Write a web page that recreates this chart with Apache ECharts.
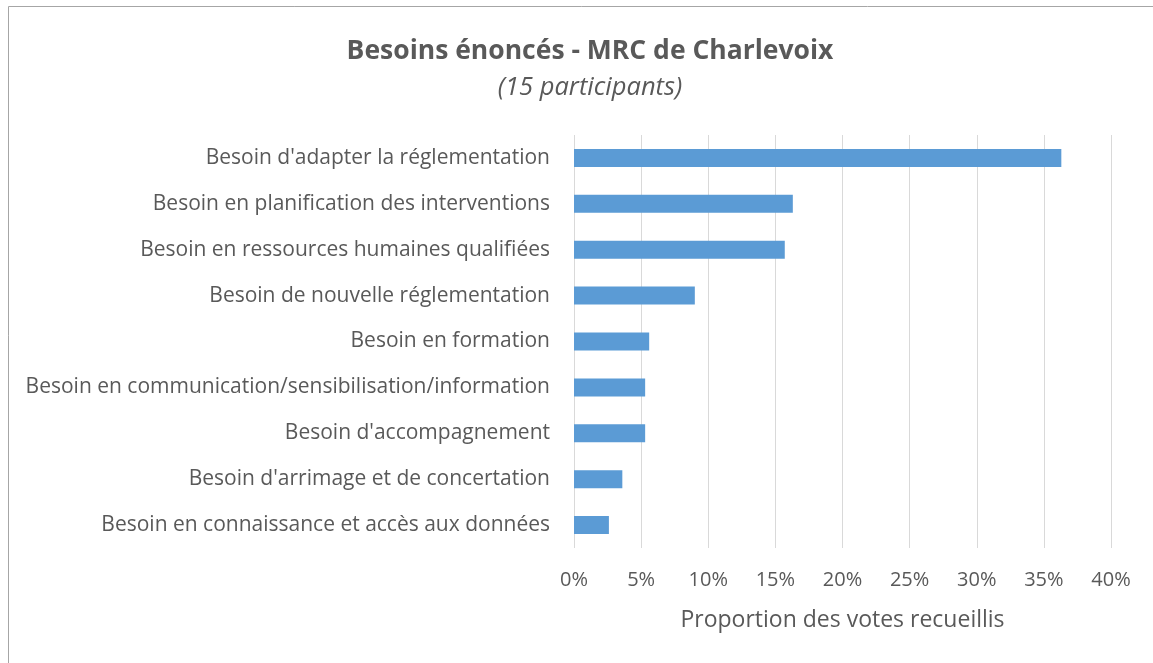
<!DOCTYPE html>
<html>
<head>
<meta charset="utf-8">
<script src="https://cdn.jsdelivr.net/npm/echarts@6/dist/echarts.min.js"></script>
<style>
html,body{margin:0;padding:0;background:#fff;}
#c{width:1153px;height:663px;}
</style>
</head>
<body>
<div id="c"></div>
<script>
const categories = [
  "Besoin d'adapter la réglementation",
  "Besoin en planification des interventions",
  "Besoin en ressources humaines qualifiées",
  "Besoin de nouvelle réglementation",
  "Besoin en formation",
  "Besoin en communication/sensibilisation/information",
  "Besoin d'accompagnement",
  "Besoin d'arrimage et de concertation",
  "Besoin en connaissance et accès aux données"
];
const values = [36.3, 16.3, 15.7, 9.0, 5.6, 5.3, 5.3, 3.6, 2.6];
const titleText = "Besoins énoncés - MRC de Charlevoix";
const subtitleText = "(15 participants)";
const axisName = "Proportion des votes recueillis";

const font = "'Open Sans', sans-serif";
const chart = echarts.init(document.getElementById('c'));
chart.setOption({
  backgroundColor: '#fff',
  animation: false,
  graphic: [{
    type: 'rect',
    shape: {x: 8.5, y: 6.5, width: 1400, height: 1000},
    style: {fill: 'none', stroke: '#a6a6a6', lineWidth: 1},
    silent: true
  }],
  title: {
    text: titleText,
    subtext: subtitleText,
    left: 585,
    textAlign: 'center',
    top: 33,
    itemGap: 10,
    textStyle: {fontFamily: font, fontSize: 26.5, fontWeight: 'bold', color: '#595959'},
    subtextStyle: {fontFamily: font, fontSize: 25.5, fontStyle: 'italic', color: '#595959'}
  },
  grid: {left: 574, right: 42, top: 135, height: 413, containLabel: false},
  xAxis: {
    type: 'value',
    min: 0, max: 40, interval: 5,
    name: axisName,
    nameLocation: 'middle',
    nameGap: 61,
    nameTextStyle: {fontFamily: font, fontSize: 23, color: '#595959'},
    axisLine: {show: false},
    axisTick: {show: false},
    axisLabel: {formatter: v => v + '%', fontFamily: font, fontSize: 20, color: '#595959', margin: 22},
    splitLine: {lineStyle: {color: '#d9d9d9', width: 1}}
  },
  yAxis: {
    type: 'category',
    data: categories,
    inverse: true,
    axisLine: {show: false},
    axisTick: {show: false},
    axisLabel: {fontFamily: font, fontSize: 21, color: '#595959', margin: 24}
  },
  series: [{
    type: 'bar',
    data: values,
    barWidth: 18,
    itemStyle: {color: '#5b9bd5'}
  }]
});
</script>
</body>
</html>
